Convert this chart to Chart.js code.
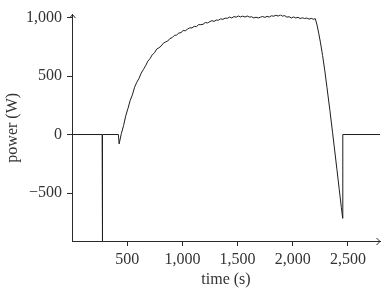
<!DOCTYPE html>
<html>
<head>
<meta charset="utf-8">
<script src="https://cdn.jsdelivr.net/npm/chart.js@4"></script>
<style>
  html, body { margin: 0; padding: 0; background: #fff; }
  #wrap { width: 386px; height: 288px; }
</style>
</head>
<body>
<div id="wrap"><canvas id="myChart"></canvas></div>
<script>
// power trace: time (s) and power (W)
var time = [
  0, 273, 274, 277, 278, 420, 427,
  447, 467, 487, 507, 527, 547, 567, 587, 607, 627,
  647, 667, 687, 707, 727, 747, 767, 787, 807, 827,
  847, 867, 887, 907, 927, 947, 967, 987, 1007, 1027,
  1047, 1067, 1087, 1107, 1127, 1147, 1167, 1187, 1207, 1227,
  1247, 1267, 1287, 1307, 1327, 1347, 1367, 1387, 1407, 1427,
  1447, 1467, 1487, 1507, 1527, 1547, 1567, 1587, 1607, 1627,
  1647, 1667, 1687, 1707, 1727, 1747, 1767, 1787, 1807, 1827,
  1847, 1867, 1887, 1907, 1927, 1947, 1967, 1987, 2007, 2027,
  2047, 2067, 2087, 2107, 2127, 2147, 2167, 2187, 2204,
  2220, 2235, 2250, 2270, 2290, 2310, 2336, 2360, 2380, 2400, 2420, 2440, 2452,
  2453, 2790
]
var power = [
  0, 0, -1000, -1000, 0, 0, -80,
  8, 76, 161, 223, 291, 339, 404, 447, 480, 525,
  556, 588, 627, 649, 682, 698, 730, 741, 756, 780,
  791, 799, 820, 828, 847, 850, 867, 871, 889, 887,
  901, 912, 911, 925, 922, 939, 939, 942, 957, 954,
  964, 973, 967, 978, 977, 989, 984, 995, 993, 1004,
  996, 1008, 1003, 1013, 1005, 1012, 1004, 1013, 1004, 1006,
  996, 1003, 996, 1003, 1009, 1001, 1010, 1004, 1015, 1011,
  1020, 1012, 1022, 1012, 1016, 1003, 1007, 996, 1005, 996,
  1002, 991, 998, 991, 996, 986, 993, 985, 990,
  935, 865, 790, 675, 545, 400, 207, 20, -140, -300, -462, -624, -716,
  0, 0
]
var xTicks = [500, 1000, 1500, 2000, 2500]
var yTicks = [-500, 0, 500, 1000]

var points = time.map(function(t, i) { return {x: t, y: power[i]} })
var fontFam = '"Liberation Serif", "DejaVu Serif", serif'
var ink = '#2a2a2a'
var textInk = '#333333'

function fmt(v) {
  return v.toLocaleString('en-US').replace('-', '\u2212')
}

var arrows = {
  id: 'arrows',
  afterDraw: function(chart) {
    var ctx = chart.ctx
    var a = chart.chartArea
    ctx.save()
    ctx.strokeStyle = ink
    ctx.lineWidth = 1
    ctx.beginPath()
    // y axis tip
    ctx.moveTo(a.left - 2.5, a.top + 3.5)
    ctx.lineTo(a.left + 0.5, a.top)
    ctx.lineTo(a.left + 3.5, a.top + 3.5)
    // x axis tip
    ctx.moveTo(a.right - 3.5, a.bottom - 3)
    ctx.lineTo(a.right, a.bottom + 0.5)
    ctx.lineTo(a.right - 3.5, a.bottom + 4)
    ctx.stroke()
    ctx.restore()
  }
}

new Chart(document.getElementById('myChart'), {
  type: 'line',
  data: {
    datasets: [{
      data: points,
      borderColor: '#1e1e1e',
      borderWidth: 1,
      pointRadius: 0,
      tension: 0,
      fill: false
    }]
  },
  options: {
    responsive: true,
    maintainAspectRatio: false,
    animation: false,
    events: [],
    layout: { padding: { top: 14, right: 6, left: 0, bottom: 0 } },
    plugins: { legend: { display: false }, tooltip: { enabled: false } },
    scales: {
      x: {
        type: 'linear',
        min: 0,
        max: 2790,
        afterBuildTicks: function(s) { s.ticks = xTicks.map(function(v) { return {value: v} }) },
        afterFit: function(s) { s.height = 47 },
        border: { color: ink, width: 1 },
        grid: { drawOnChartArea: false, tickLength: 5, color: ink },
        ticks: {
          color: textInk, padding: 4, maxRotation: 0, autoSkip: false,
          font: { family: fontFam, size: 16 },
          callback: function(v) { return fmt(v) }
        },
        title: {
          display: true, text: 'time (s)', color: textInk,
          font: { family: fontFam, size: 16, lineHeight: 1 },
          padding: { top: 0, bottom: 0 }
        }
      },
      y: {
        min: -910,
        max: 1025,
        afterBuildTicks: function(s) { s.ticks = yTicks.map(function(v) { return {value: v} }) },
        afterFit: function(s) { s.width = 72 },
        border: { color: ink, width: 1 },
        grid: { drawOnChartArea: false, tickLength: 5, color: ink },
        ticks: {
          color: textInk, padding: 5, autoSkip: false,
          font: { family: fontFam, size: 16 },
          callback: function(v) { return fmt(v) }
        },
        title: {
          display: true, text: 'power (W)', color: textInk,
          font: { family: fontFam, size: 16, lineHeight: 1 },
          padding: { top: 5, bottom: 0 }
        }
      }
    }
  },
  plugins: [arrows]
})
</script>
</body>
</html>
